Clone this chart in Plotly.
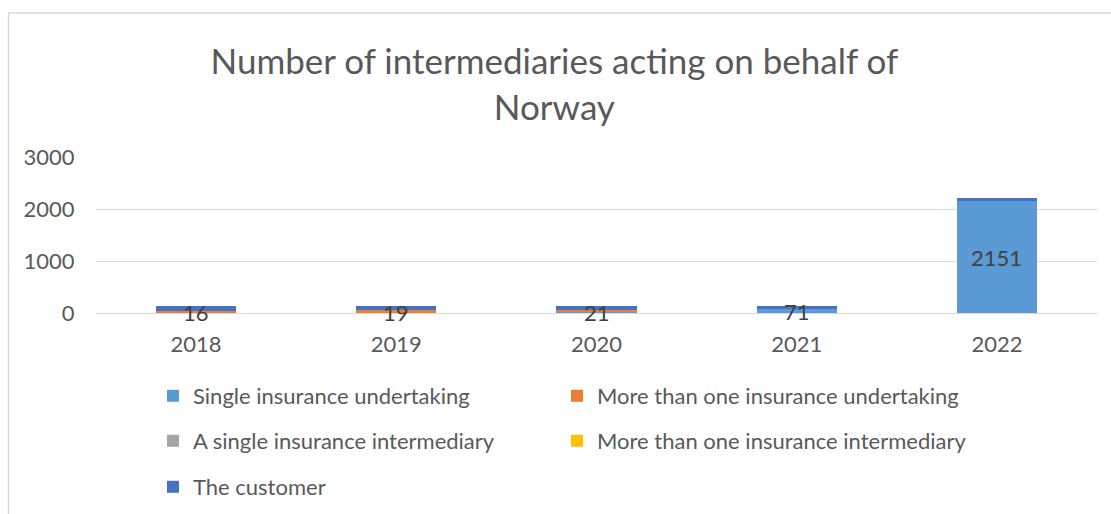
import plotly.graph_objects as go

years = ["2018", "2019", "2020", "2021", "2022"]
single_undertaking = [16, 19, 21, 71, 2151]
multi_undertaking = [30, 30, 30, 0, 0]
single_intermediary = [0, 0, 0, 0, 0]
multi_intermediary = [0, 0, 0, 0, 0]
customer = [85, 85, 85, 60, 55]

series_names = ["Single insurance undertaking", "More than one insurance undertaking",
                "A single insurance intermediary", "More than one insurance intermediary",
                "The customer"]
series_values = [single_undertaking, multi_undertaking, single_intermediary,
                 multi_intermediary, customer]
series_colors = ["#5B9BD5", "#ED7D31", "#A5A5A5", "#FFC000", "#4472C4"]

FONT = "Lato, 'Open Sans', sans-serif"
GREY = "#595959"

# legend slot positions (px in the 1111x514 canvas): left x, centre y
legend_pos = [(153, 396), (557, 396), (153, 441), (557, 441), (153, 487)]
legend_keys = ["legend", "legend2", "legend3", "legend4", "legend5"]

fig = go.Figure()
for name, vals, color, lg in zip(series_names, series_values, series_colors, legend_keys):
    fig.add_trace(go.Bar(
        x=years, y=vals, name=name, marker=dict(color=color, line=dict(width=0)),
        legend=lg, showlegend=True,
    ))

for i, v in enumerate(single_undertaking):
    fig.add_annotation(x=i, y=v / 2, text=str(v), showarrow=False,
                       font=dict(family=FONT, size=22, color="#404040"))

legends = {}
for key, (lx, ly) in zip(legend_keys, legend_pos):
    legends[key] = dict(orientation="h", xref="container", yref="container",
                        x=lx / 1111, y=1 - ly / 514,
                        xanchor="left", yanchor="middle",
                        font=dict(family=FONT, size=22, color=GREY),
                        bgcolor="rgba(0,0,0,0)", itemclick=False)

fig.update_layout(
    width=1111, height=514,
    showlegend=True,
    barmode="stack", bargap=0.6,
    paper_bgcolor="white", plot_bgcolor="white",
    margin=dict(l=96, r=14, t=157, b=201, autoexpand=False),
    title=dict(text="Number of intermediaries acting on behalf of<br>Norway",
               x=0.499, xanchor="center", y=1 - 74 / 514, yanchor="middle",
               font=dict(family=FONT, size=35, color=GREY)),
    xaxis=dict(type="category", range=[-0.5, len(years) - 0.5], showgrid=False,
               showline=True, linecolor="#D9D9D9",
               linewidth=1, ticks="outside", tickcolor="rgba(0,0,0,0)", ticklen=12,
               tickfont=dict(family=FONT, size=22, color=GREY)),
    yaxis=dict(range=[0, 3000], tickvals=[0, 1000, 2000, 3000],
               showgrid=True, gridcolor="#D9D9D9", gridwidth=1, zeroline=False,
               showline=False, ticks="outside", tickcolor="rgba(0,0,0,0)", ticklen=16,
               tickfont=dict(family=FONT, size=22, color=GREY)),
    shapes=[dict(type="rect", xref="paper", yref="paper",
                 x0=-87.5 / 1001, x1=1.2, y0=-2, y1=1 + 144 / 156,
                 line=dict(color="#D9D9D9", width=1.5), fillcolor="rgba(0,0,0,0)",
                 layer="below")],
    **legends,
)

fig.write_html("out.html", config={"displayModeBar": False},
               post_script="document.body.style.margin='0';")
